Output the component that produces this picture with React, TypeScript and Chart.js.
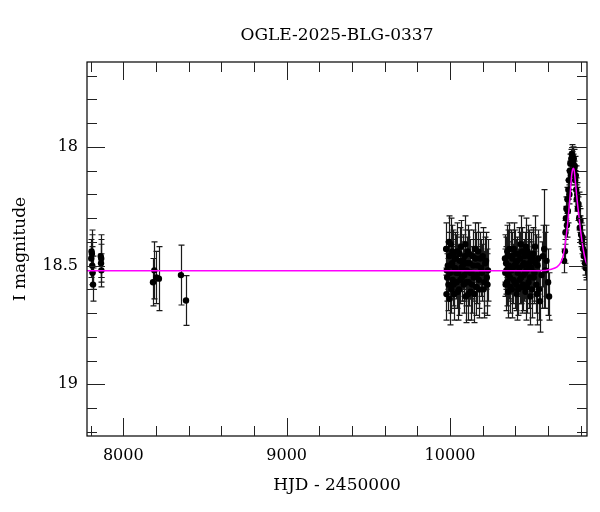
import React, { useEffect, useRef } from "react";
import { Chart, registerables } from "chart.js";
Chart.register(...registerables);

const FONT = "'DejaVu Serif', 'Liberation Serif', serif";

const chartTitle = "OGLE-2025-BLG-0337";
const xTitle = "HJD - 2450000";
const yTitle = "I magnitude";

const xMin = 7778;
const xMax = 10838;
const yMin = 17.642;
const yMax = 19.218;

const xMajorTicks = [8000, 9000, 10000];
const xMinorTicks = [7800, 8200, 8400, 8600, 8800, 9200, 9400, 9600, 9800, 10200, 10400, 10600, 10800];
const yMajorTicks = [18, 18.5, 19];
const yMinorTicks = [17.7, 17.8, 17.9, 18.1, 18.2, 18.3, 18.4, 18.6, 18.7, 18.8, 18.9, 19.1, 19.2];

// observations: HJD-2450000, I mag, error
const obsHJD = [
  7804, 7806, 7808, 7810, 7812, 7815, 7862, 7864, 7865, 7866,
  8182, 8190, 8202, 8218, 8353, 8384,
  9976, 9978, 9982, 9986, 9990, 9995, 10000, 10004, 10008, 10012,
  10016, 10020, 10025, 10030, 10035, 10040, 10045, 10050, 10055, 10060,
  10066, 10072, 10078, 10084, 10090, 10096, 10102, 10108, 10114, 10120,
  10126, 10132, 10138, 10145, 10152, 10160, 10168, 10176, 10185, 10195,
  10205, 10215, 10225, 10232,
  9980, 9993, 9998, 10006, 10014, 10022, 10028, 10038, 10048, 10058,
  10063, 10069, 10081, 10087, 10093, 10099, 10105, 10111, 10117, 10123,
  10135, 10142, 10149, 10156, 10164, 10172, 10180, 10190, 10200, 10210,
  10220, 10229,
  10336, 10340, 10345, 10350, 10355, 10360, 10366, 10372, 10378, 10384,
  10390, 10396, 10402, 10408, 10414, 10420, 10426, 10432, 10438, 10444,
  10450, 10456, 10462, 10468, 10474, 10480, 10486, 10492, 10498, 10505,
  10512, 10520, 10528, 10536, 10545, 10550, 10560, 10568, 10576, 10583,
  10590, 10600, 10606,
  10338, 10343, 10348, 10353, 10358, 10363, 10369, 10375, 10381, 10387,
  10393, 10399, 10405, 10411, 10417, 10423, 10429, 10435, 10441, 10447,
  10453, 10459, 10465, 10471, 10477, 10483, 10489, 10495, 10502, 10509,
  10516, 10524, 10532, 10540,
  10698, 10703, 10706, 10709, 10712, 10715, 10718, 10721, 10724, 10727,
  10730, 10733, 10736, 10739, 10742, 10745, 10748, 10751, 10754, 10757,
  10760, 10763, 10766, 10769, 10772, 10775, 10778, 10782, 10786, 10790,
  10794, 10798, 10802, 10806, 10810, 10814, 10818, 10822, 10826, 10830,
  10834,
];
const obsMag = [
  18.47, 18.44, 18.45, 18.50, 18.53, 18.58, 18.46, 18.49, 18.47, 18.52,
  18.57, 18.52, 18.55, 18.555, 18.54, 18.647,
  18.43, 18.62, 18.55, 18.50, 18.58, 18.46, 18.53, 18.41, 18.60, 18.49,
  18.56, 18.45, 18.62, 18.51, 18.47, 18.57, 18.44, 18.53, 18.60, 18.48,
  18.42, 18.55, 18.50, 18.58, 18.46, 18.63, 18.52, 18.44, 18.57, 18.49,
  18.61, 18.53, 18.46, 18.55, 18.43, 18.59, 18.50, 18.56, 18.47, 18.53,
  18.60, 18.49, 18.55, 18.52,
  18.52, 18.40, 18.64, 18.50, 18.44, 18.58, 18.47, 18.53, 18.61, 18.45,
  18.56, 18.51, 18.48, 18.54, 18.41, 18.57, 18.49, 18.62, 18.45, 18.53,
  18.58, 18.50, 18.62, 18.47, 18.54, 18.44, 18.60, 18.51, 18.46, 18.57,
  18.48, 18.58,
  18.47, 18.58, 18.52, 18.44, 18.61, 18.50, 18.55, 18.46, 18.60, 18.51,
  18.43, 18.57, 18.49, 18.62, 18.53, 18.45, 18.56, 18.41, 18.59, 18.50,
  18.54, 18.46, 18.61, 18.52, 18.44, 18.57, 18.49, 18.63, 18.51, 18.47,
  18.55, 18.42, 18.58, 18.50, 18.60, 18.65, 18.54, 18.46, 18.43, 18.52,
  18.48, 18.57, 18.63,
  18.53, 18.49, 18.57, 18.46, 18.54, 18.43, 18.59, 18.52, 18.47, 18.56,
  18.50, 18.45, 18.58, 18.48, 18.60, 18.51, 18.47, 18.55, 18.44, 18.58,
  18.49, 18.53, 18.42, 18.59, 18.50, 18.46, 18.55, 18.48, 18.60, 18.45,
  18.53, 18.49, 18.62, 18.47,
  18.48, 18.44, 18.36, 18.30, 18.26, 18.33, 18.22, 18.27, 18.18, 18.14,
  18.20, 18.10, 18.07, 18.12, 18.05, 18.03, 18.06, 18.04, 18.07, 18.05,
  18.10, 18.08, 18.14, 18.12, 18.18, 18.22, 18.20, 18.26, 18.24, 18.30,
  18.34, 18.31, 18.37, 18.40, 18.38, 18.43, 18.46, 18.44, 18.49, 18.51,
  18.50,
];
const obsErr = [
  0.08, 0.09, 0.08, 0.08, 0.07, 0.07, 0.09, 0.08, 0.08, 0.07,
  0.10, 0.12, 0.11, 0.135, 0.126, 0.105,
  0.11, 0.11, 0.10, 0.10, 0.11, 0.10, 0.10, 0.11, 0.10, 0.10,
  0.11, 0.10, 0.11, 0.10, 0.10, 0.11, 0.12, 0.10, 0.11, 0.10,
  0.11, 0.10, 0.10, 0.12, 0.11, 0.11, 0.10, 0.11, 0.10, 0.10,
  0.12, 0.11, 0.11, 0.10, 0.11, 0.12, 0.11, 0.12, 0.11, 0.12,
  0.12, 0.11, 0.12, 0.13,
  0.10, 0.11, 0.11, 0.10, 0.11, 0.10, 0.11, 0.11, 0.12, 0.11,
  0.10, 0.10, 0.11, 0.11, 0.12, 0.10, 0.11, 0.11, 0.10, 0.11,
  0.12, 0.11, 0.12, 0.11, 0.12, 0.12, 0.12, 0.12, 0.12, 0.13,
  0.12, 0.13,
  0.10, 0.11, 0.10, 0.11, 0.11, 0.10, 0.10, 0.11, 0.12, 0.10,
  0.11, 0.11, 0.10, 0.11, 0.10, 0.11, 0.10, 0.12, 0.11, 0.10,
  0.11, 0.10, 0.12, 0.10, 0.11, 0.11, 0.10, 0.12, 0.11, 0.12,
  0.11, 0.13, 0.12, 0.12, 0.13, 0.13, 0.14, 0.13, 0.25, 0.16,
  0.15, 0.14, 0.10,
  0.10, 0.11, 0.10, 0.11, 0.10, 0.11, 0.11, 0.10, 0.11, 0.10,
  0.11, 0.10, 0.11, 0.10, 0.11, 0.10, 0.11, 0.11, 0.10, 0.11,
  0.10, 0.11, 0.12, 0.11, 0.10, 0.11, 0.11, 0.12, 0.12, 0.11,
  0.12, 0.12, 0.13, 0.12,
  0.05, 0.05, 0.05, 0.05, 0.05, 0.05, 0.05, 0.05, 0.04, 0.04,
  0.04, 0.04, 0.04, 0.04, 0.04, 0.04, 0.04, 0.04, 0.04, 0.04,
  0.04, 0.04, 0.04, 0.04, 0.05, 0.05, 0.05, 0.05, 0.05, 0.05,
  0.05, 0.05, 0.05, 0.05, 0.05, 0.05, 0.05, 0.05, 0.05, 0.05,
  0.05,
];

// model curve
const modelHJD = [
  7778, 10550, 10620, 10655, 10675, 10690, 10700, 10710, 10720, 10728,
  10736, 10744, 10750, 10755, 10760, 10766, 10773, 10780, 10790, 10800,
  10810, 10820, 10830, 10838,
];
const modelMag = [
  18.522, 18.522, 18.515, 18.505, 18.49, 18.465, 18.43, 18.38, 18.32, 18.26,
  18.19, 18.12, 18.095, 18.09, 18.10, 18.14, 18.19, 18.24, 18.30, 18.36,
  18.41, 18.45, 18.48, 18.495,
];

const errorBarPlugin = {
  id: "errorBars",
  beforeDatasetsDraw(chart: any) {
    const { ctx, chartArea, scales } = chart;
    const x = scales.x;
    const y = scales.y;
    ctx.save();
    ctx.beginPath();
    ctx.rect(chartArea.left, chartArea.top, chartArea.right - chartArea.left, chartArea.bottom - chartArea.top);
    ctx.clip();
    ctx.strokeStyle = "#1a1a1a";
    ctx.lineWidth = 1.2;
    obsHJD.forEach((t, i) => {
      const px = Math.round(x.getPixelForValue(t)) + 0.5;
      const y1 = y.getPixelForValue(obsMag[i] - obsErr[i]);
      const y2 = y.getPixelForValue(obsMag[i] + obsErr[i]);
      ctx.beginPath();
      ctx.moveTo(px, y1);
      ctx.lineTo(px, y2);
      ctx.moveTo(px - 3, y1);
      ctx.lineTo(px + 3, y1);
      ctx.moveTo(px - 3, y2);
      ctx.lineTo(px + 3, y2);
      ctx.stroke();
    });
    ctx.restore();
  },
};

const framePlugin = {
  id: "frame",
  afterDraw(chart: any) {
    const { ctx, chartArea, scales } = chart;
    const { left, right, top, bottom } = chartArea;
    const x = scales.x;
    const y = scales.y;
    ctx.save();
    ctx.fillStyle = "#000";
    ctx.font = `17px ${FONT}`;
    ctx.textAlign = "center";
    ctx.textBaseline = "middle";
    ctx.fillText(chartTitle, (left + right) / 2, 36);
    ctx.strokeStyle = "#000";
    ctx.lineWidth = 1.2;
    ctx.strokeRect(left, top, right - left, bottom - top);
    ctx.lineWidth = 1;
    ctx.strokeStyle = "#222";
    const drawX = (vals: number[], len: number) => {
      vals.forEach((v) => {
        const px = Math.round(x.getPixelForValue(v)) + 0.5;
        ctx.beginPath();
        ctx.moveTo(px, bottom);
        ctx.lineTo(px, bottom - len);
        ctx.moveTo(px, top);
        ctx.lineTo(px, top + len);
        ctx.stroke();
      });
    };
    const drawY = (vals: number[], len: number) => {
      vals.forEach((v) => {
        const py = Math.round(y.getPixelForValue(v)) + 0.5;
        ctx.beginPath();
        ctx.moveTo(left, py);
        ctx.lineTo(left + len, py);
        ctx.moveTo(right, py);
        ctx.lineTo(right - len, py);
        ctx.stroke();
      });
    };
    drawX(xMajorTicks, 18);
    drawX(xMinorTicks, 10);
    drawY(yMajorTicks, 18);
    drawY(yMinorTicks, 10);
    ctx.restore();
  },
};

export default function App() {
  const ref = useRef<HTMLCanvasElement>(null);
  useEffect(() => {
    if (!ref.current) return;
    const chart = new Chart(ref.current, {
      type: "scatter",
      data: {
        datasets: [
          {
            label: "model",
            data: modelHJD.map((t, i) => ({ x: t, y: modelMag[i] })),
            showLine: true,
            borderColor: "#ff00ff",
            borderWidth: 1.5,
            pointRadius: 0,
            cubicInterpolationMode: "monotone",
            order: 1,
          } as any,
          {
            label: "OGLE",
            data: obsHJD.map((t, i) => ({ x: t, y: obsMag[i] })),
            pointRadius: 3.2,
            pointBackgroundColor: "#000",
            pointBorderWidth: 0,
            order: 2,
          } as any,
        ],
      },
      options: {
        responsive: false,
        animation: false,
        layout: { padding: { left: 0, right: 13, top: 62, bottom: 0 } },
        plugins: {
          legend: { display: false },
          tooltip: { enabled: false },
          title: { display: false },
        },
        scales: {
          x: {
            type: "linear",
            position: "bottom",
            min: xMin,
            max: xMax,
            afterBuildTicks: (s: any) => {
              s.ticks = xMajorTicks.map((v) => ({ value: v }));
            },
            afterFit: (s: any) => {
              s.height = 76;
            },
            ticks: {
              callback: (v: any) => String(v),
              color: "#000",
              font: { family: FONT, size: 16 },
              padding: 10,
              maxRotation: 0,
              autoSkip: false,
            },
            grid: { display: false, drawTicks: false },
            border: { display: false },
            title: {
              display: true,
              text: xTitle,
              color: "#000",
              font: { family: FONT, size: 17 },
              padding: { top: 0, bottom: 16 },
            },
          },
          y: {
            type: "linear",
            reverse: true,
            min: yMin,
            max: yMax,
            afterBuildTicks: (s: any) => {
              s.ticks = yMajorTicks.map((v) => ({ value: v }));
            },
            afterFit: (s: any) => {
              s.width = 87;
            },
            ticks: {
              callback: (v: any) => String(v),
              color: "#000",
              font: { family: FONT, size: 16 },
              padding: 9,
              autoSkip: false,
            },
            grid: { display: false, drawTicks: false },
            border: { display: false },
            title: {
              display: true,
              text: yTitle,
              color: "#000",
              font: { family: FONT, size: 17 },
              padding: { top: 10, bottom: 0 },
            },
          },
        },
      } as any,
      plugins: [errorBarPlugin, framePlugin],
    });
    return () => chart.destroy();
  }, []);
  return (
    <div style={{ position: "fixed", left: 0, top: 0, width: 600, height: 512, background: "#fff" }}>
      <canvas ref={ref} width={600} height={512} style={{ display: "block", width: 600, height: 512 }} />
    </div>
  );
}
